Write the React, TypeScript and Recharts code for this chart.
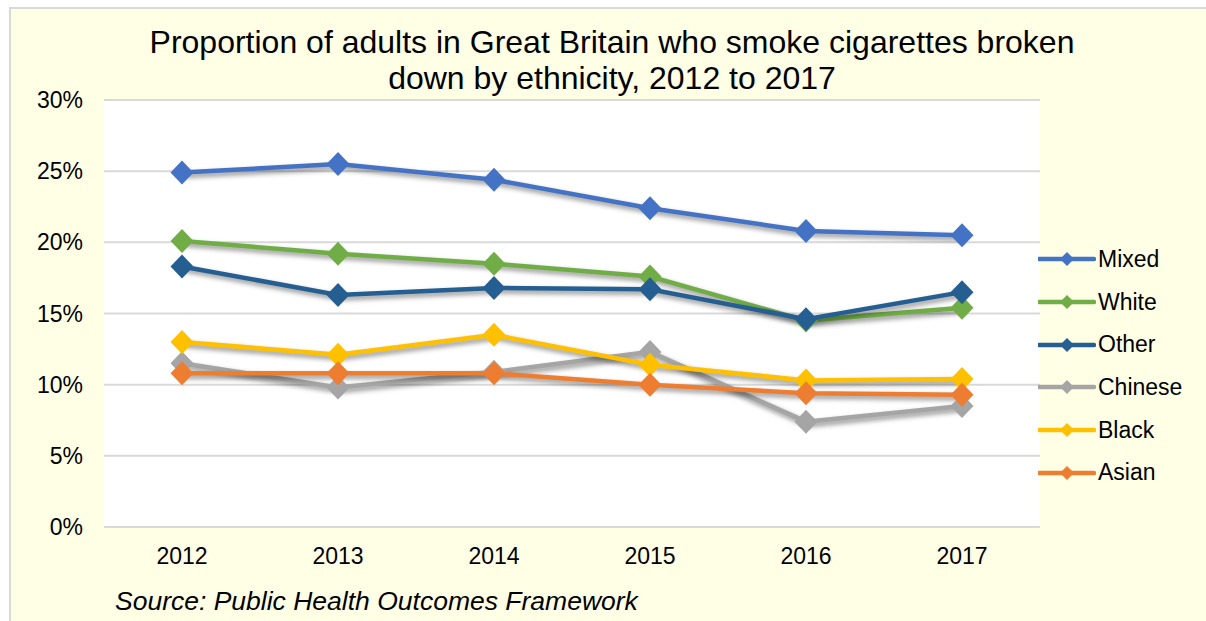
import { CartesianGrid, Legend, Line, LineChart, XAxis, YAxis } from "recharts";

const years = ["2012", "2013", "2014", "2015", "2016", "2017"];
const mixed = [24.9, 25.5, 24.4, 22.4, 20.8, 20.5];
const white = [20.1, 19.2, 18.5, 17.6, 14.5, 15.4];
const other = [18.3, 16.3, 16.8, 16.7, 14.6, 16.5];
const chinese = [11.5, 9.8, 10.9, 12.3, 7.4, 8.5];
const black = [13.0, 12.1, 13.5, 11.4, 10.3, 10.4];
const asian = [10.8, 10.8, 10.8, 10.0, 9.4, 9.3];
const yTicks = [0, 5, 10, 15, 20, 25, 30];

const series = [
  { key: "Mixed", values: mixed, color: "#4472C4" },
  { key: "White", values: white, color: "#70AD47" },
  { key: "Other", values: other, color: "#255E91" },
  { key: "Chinese", values: chinese, color: "#A5A5A5" },
  { key: "Black", values: black, color: "#FFC000" },
  { key: "Asian", values: asian, color: "#ED7D31" },
];

const data = years.map((year, i) => {
  const row: Record<string, string | number> = { year };
  series.forEach((s) => (row[s.key] = s.values[i]));
  return row;
});

const FONT = "'Liberation Sans', Arial, sans-serif";

const diamond = (color: string, r: number) => (props: any) => {
  const { cx, cy, index } = props;
  if (cx == null || cy == null) return <g key={index} />;
  return (
    <polygon
      key={index}
      points={`${cx},${cy - r} ${cx + r - 0.5},${cy} ${cx},${cy + r} ${cx - r + 0.5},${cy}`}
      fill={color}
    />
  );
};

function LegendBox() {
  return (
    <div style={{ fontFamily: FONT, fontSize: 23, color: "#000" }}>
      {series.map((s) => (
        <div key={s.key} style={{ height: 42.7, display: "flex", alignItems: "center" }}>
          <svg width={58} height={20} style={{ marginRight: 2 }}>
            <line x1={1} y1={10} x2={56} y2={10} stroke={s.color} strokeWidth={4.5} strokeLinecap="round" />
            <polygon points="29,3 36,10 29,17 22,10" fill={s.color} />
          </svg>
          <span>{s.key}</span>
        </div>
      ))}
    </div>
  );
}

export default function App() {
  return (
    <div style={{ position: "fixed", left: 0, top: 0, width: 1206, height: 621, background: "#fff", overflow: "hidden" }}>
      <style>{`.recharts-line { filter: drop-shadow(2px 3px 2.5px rgba(0,0,0,0.45)); }`}</style>
      <div
        style={{
          position: "absolute",
          left: 9,
          top: 7,
          width: 1210,
          height: 630,
          background: "#FFFFE6",
          borderLeft: "2px solid #D9D9D9",
          borderTop: "2px solid #D9D9D9",
        }}
      />
      <div
        style={{
          position: "absolute",
          left: 112,
          top: 24,
          width: 1000,
          textAlign: "center",
          fontFamily: FONT,
          fontSize: 32,
          lineHeight: "36px",
          color: "#000",
        }}
      >
        Proportion of adults in Great Britain who smoke cigarettes broken
        <br />
        down by ethnicity, 2012 to 2017
      </div>
      <div
        style={{
          position: "absolute",
          left: 115,
          top: 586,
          fontFamily: FONT,
          fontSize: 26.5,
          fontStyle: "italic",
          lineHeight: "30px",
          color: "#000",
        }}
      >
        Source: Public Health Outcomes Framework
      </div>
      <div style={{ position: "absolute", left: 0, top: 0 }}>
        <LineChart
          width={1206}
          height={621}
          data={data}
          margin={{ top: 100, right: 166, bottom: 64, left: 0 }}
          style={{ fontFamily: FONT }}
        >
          <CartesianGrid vertical={false} stroke="#D9D9D9" strokeWidth={2} fill="#fff" />
          <XAxis
            dataKey="year"
            height={30}
            padding={{ left: 78, right: 78 }}
            axisLine={false}
            tickLine={false}
            tickMargin={15}
            tick={{ fill: "#000", fontSize: 23 }}
          />
          <YAxis
            domain={[0, 30]}
            ticks={yTicks}
            width={104}
            axisLine={false}
            tickLine={false}
            tickMargin={15}
            tickFormatter={(v) => `${v}%`}
            tick={{ fill: "#000", fontSize: 23 }}
          />
          <Legend
            layout="vertical"
            align="center"
            verticalAlign="middle"
            content={() => <LegendBox />}
            wrapperStyle={{ left: 1038, top: 238, width: 168 }}
          />
          {series.map((s) => (
            <Line
              key={s.key}
              type="linear"
              dataKey={s.key}
              stroke={s.color}
              strokeWidth={4.5}
              dot={diamond(s.color, 12)}
              activeDot={false}
              isAnimationActive={false}
            />
          ))}
        </LineChart>
      </div>
    </div>
  );
}
